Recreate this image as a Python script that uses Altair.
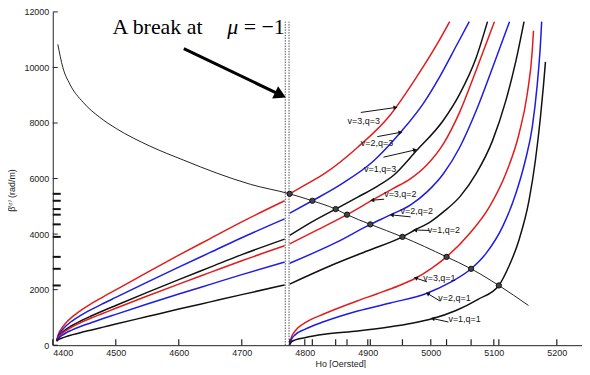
import math
import altair as alt
import pandas as pd

# ---------------- data ----------------
x_major = [4400, 4500, 4600, 4700, 4800, 4900, 5000, 5100, 5200]
y_major = [0, 2000, 4000, 6000, 8000, 10000, 12000]

# intersections of the dispersion curves with the descending line
cross_H = [4776, 4812, 4849, 4867, 4904, 4955, 5025, 5064, 5108]
cross_beta = [5450, 5200, 4900, 4700, 4350, 3900, 3180, 2750, 2150]

# left branch (below the break) for q=3 and q=2 families
left_H = [4406, 4409, 4414, 4420, 4430, 4445, 4460, 4480, 4500, 4550, 4600, 4650, 4700, 4768]
left_red_q3 = [150, 400, 600, 780, 1000, 1260, 1480, 1740, 1990, 2620, 3240, 3840, 4440, 5200]
left_blue_q3 = [150, 350, 520, 670, 860, 1080, 1270, 1500, 1720, 2270, 2810, 3340, 3870, 4550]
left_black_q3 = [150, 300, 430, 550, 700, 880, 1040, 1240, 1430, 1900, 2360, 2810, 3260, 3820]
left_red_q2 = [150, 290, 400, 510, 650, 820, 970, 1150, 1330, 1770, 2200, 2620, 3040, 3580]
left_blue_q2 = [150, 250, 340, 430, 540, 680, 800, 960, 1110, 1480, 1840, 2190, 2540, 2990]
left_black_q2 = [150, 200, 250, 300, 370, 460, 540, 650, 760, 1030, 1300, 1560, 1820, 2170]

# right branch (above the break)
r_red_q3_H = [4776, 4800, 4831, 4884, 4936, 4973, 5009, 5030]
r_red_q3 = [5450, 5760, 6174, 7128, 8300, 9500, 10800, 11650]
r_blue_q3_H = [4776, 4812, 4858, 4910, 4952, 4988, 5015, 5041, 5061]
r_blue_q3 = [4750, 5200, 5800, 6650, 7664, 8700, 9700, 10800, 11650]
r_black_q3_H = [4776, 4810, 4849, 4884, 4915, 4941, 4977, 5020, 5046, 5072, 5090]
r_black_q3 = [3950, 4420, 4900, 5330, 5720, 6120, 7000, 8100, 9050, 10350, 11650]
r_red_q2_H = [4776, 4820, 4867, 4907, 4940, 4968, 4994, 5020, 5046, 5072, 5101]
r_red_q2 = [3650, 4150, 4700, 5220, 5640, 6000, 6500, 7250, 8400, 9900, 11650]
r_blue_q2_H = [4776, 4850, 4904, 4936, 4968, 4994, 5020, 5046, 5072, 5098, 5125]
r_blue_q2 = [2950, 3700, 4350, 4690, 5050, 5520, 6174, 7128, 8439, 9988, 11650]
r_black_q2_H = [4776, 4850, 4900, 4955, 4975, 5000, 5020, 5046, 5072, 5098, 5119, 5135, 5148]
r_black_q2 = [2200, 2950, 3400, 3900, 4148, 4450, 4800, 5340, 6174, 7366, 8796, 10226, 11650]
r_red_q1_H = [4776, 4779, 4785, 4800, 4831, 4884, 4915, 4950, 4975, 5000, 5025, 5062, 5093, 5119, 5140, 5153, 5161, 5163]
r_red_q1 = [60, 300, 520, 800, 1130, 1600, 1850, 2150, 2400, 2750, 3180, 4028, 4982, 6174, 7604, 9035, 10584, 11320]
r_blue_q1_H = [4776, 4779, 4785, 4800, 4831, 4884, 4936, 4994, 5030, 5064, 5088, 5114, 5135, 5150, 5161, 5169, 5174, 5176]
r_blue_q1 = [40, 220, 380, 570, 850, 1230, 1520, 1870, 2250, 2750, 3313, 4267, 5459, 6650, 7843, 9392, 10822, 11650]
r_black_q1_H = [4776, 4779, 4785, 4800, 4831, 4884, 4936, 4970, 5002, 5040, 5075, 5108, 5124, 5140, 5156, 5166, 5174, 5179, 5182]
r_black_q1 = [20, 120, 190, 270, 390, 510, 660, 790, 954, 1250, 1650, 2150, 2840, 3790, 5220, 6650, 8200, 9392, 10200]

# thin descending line
line_H = [4408, 4416, 4427, 4448, 4474, 4501, 4554, 4608, 4661, 4714, 4776, 4812, 4849, 4867, 4904, 4955, 5025, 5064, 5108, 5155]
line_beta = [10833, 10000, 9405, 8750, 8214, 7798, 7170, 6660, 6190, 5790, 5450, 5200, 4900, 4700, 4350, 3900, 3180, 2750, 2150, 1430]

# break (two dotted lines)
break_H = [4769, 4775]
break_top = 11650

# curve labels
lab_text = ["v=3,q=3", "v=2,q=3", "v=1,q=3", "v=3,q=2", "v=2,q=2", "v=1,q=2", "v=3,q=1", "v=2,q=1", "v=1,q=1"]
lab_H = [4868, 4889, 4894, 4926, 4952, 4995, 4988, 5012, 5028]
lab_beta = [8057, 7270, 6353, 5459, 4827, 4148, 2420, 1704, 930]
arr_from_H = [4889, 4915, 4925, 4926, 4968, 4998, 4994, 5015, 5028]
arr_from_b = [8380, 7509, 6770, 5256, 4620, 4130, 2280, 1585, 834]
arr_to_H = [4944, 4952, 4975, 4907, 4938, 4975, 4976, 4995, 5003]
arr_to_b = [8558, 7664, 7030, 5220, 4690, 4148, 2420, 1860, 960]

RED, BLUE, BLACK = "#e41b1b", "#1c1ce6", "#111111"

# ---------------- geometry ----------------
W, Hh = 532, 335
X0, X1 = 4400, 5240
Y0, Y1 = 0, 12000
kx = W / (X1 - X0)
ky = Hh / (Y1 - Y0)
xs = alt.Scale(domain=[X0, X1], nice=False, zero=False)
ys = alt.Scale(domain=[Y0, Y1], nice=False, zero=False)
FONT = "Liberation Sans"

# ---------------- tables ----------------
rows = []
def add(seg, col, hs, bs):
    for i, (h, b) in enumerate(zip(hs, bs)):
        rows.append({"H": h, "beta": b, "seg": seg, "col": col, "i": i})

add("L_r3", RED, left_H, left_red_q3)
add("L_b3", BLUE, left_H, left_blue_q3)
add("L_k3", BLACK, left_H, left_black_q3)
add("L_r2", RED, left_H, left_red_q2)
add("L_b2", BLUE, left_H, left_blue_q2)
add("L_k2", BLACK, left_H, left_black_q2)
add("R_r3", RED, r_red_q3_H, r_red_q3)
add("R_b3", BLUE, r_blue_q3_H, r_blue_q3)
add("R_k3", BLACK, r_black_q3_H, r_black_q3)
add("R_r2", RED, r_red_q2_H, r_red_q2)
add("R_b2", BLUE, r_blue_q2_H, r_blue_q2)
add("R_k2", BLACK, r_black_q2_H, r_black_q2)
add("R_r1", RED, r_red_q1_H, r_red_q1)
add("R_b1", BLUE, r_blue_q1_H, r_blue_q1)
add("R_k1", BLACK, r_black_q1_H, r_black_q1)
curves = pd.DataFrame(rows)

thin = pd.DataFrame({"H": line_H, "beta": line_beta, "i": range(len(line_H))})
dots = pd.DataFrame({"H": cross_H, "beta": cross_beta})
brk = pd.DataFrame({"H": break_H, "beta": [0, 0], "y1": [break_top, break_top]})

xt = pd.DataFrame({"H": x_major + cross_H})
yt_major = pd.DataFrame({"beta": y_major})
yt_extra = pd.DataFrame({"beta": cross_beta})

labs = pd.DataFrame({"H": lab_H, "beta": lab_beta, "t": lab_text})
arr_rows = []
heads = []
for k in range(len(lab_text)):
    arr_rows.append({"H": arr_from_H[k], "beta": arr_from_b[k], "g": k, "i": 0})
    arr_rows.append({"H": arr_to_H[k], "beta": arr_to_b[k], "g": k, "i": 1})
    dxp = (arr_to_H[k] - arr_from_H[k]) * kx
    dyp = -(arr_to_b[k] - arr_from_b[k]) * ky
    ang = math.degrees(math.atan2(dyp, dxp)) % 360
    heads.append({"H": arr_to_H[k], "beta": arr_to_b[k], "ang": ang})
arr_df = pd.DataFrame(arr_rows)
head_df = pd.DataFrame(heads)

# big annotation arrow
big_from = (4608, 10675)
big_to = (4770, 8919)
bdx = (big_to[0] - big_from[0]) * kx
bdy = -(big_to[1] - big_from[1]) * ky
blen = math.hypot(bdx, bdy)
bang = math.degrees(math.atan2(bdy, bdx)) % 360
ux, uy = bdx / blen, bdy / blen
head_c = (big_to[0] - 6 * ux / kx, big_to[1] + 6 * uy / ky)
shaft_end = (big_to[0] - 9 * ux / kx, big_to[1] + 9 * uy / ky)
big_line = pd.DataFrame({"H": [big_from[0], shaft_end[0]], "beta": [big_from[1], shaft_end[1]], "i": [0, 1]})
big_head = pd.DataFrame({"H": [head_c[0]], "beta": [head_c[1]], "ang": [bang]})

ann_plain = pd.DataFrame({"H": [4495, 4703], "beta": [11212, 11212], "t": ["A break at", "= \u22121"]})
ann_mu = pd.DataFrame({"H": [4677], "beta": [11212], "t": ["\u03bc"]})

# ---------------- axes (shared by every layer) ----------------
XT = "Ho [Oersted]"
YT = "\u03b2\u207d\u02b3\u207e  (rad/m)"
xaxis = alt.Axis(values=x_major, format="d", ticks=False, tickSize=0, grid=False,
                 labelFont=FONT, labelFontSize=9, labelColor="#222", labelPadding=3,
                 domainColor="#222", title=XT, titleFont=FONT, titleX=289,
                 titleFontSize=9, titleFontWeight="normal", titleColor="#222", titlePadding=2)
yaxis = alt.Axis(values=y_major, format="d", ticks=False, tickSize=0, grid=False,
                 labelFont=FONT, labelFontSize=9, labelColor="#222", labelPadding=4,
                 domainColor="#222", title=YT, titleFont=FONT, titleY=179,
                 titleFontSize=9, titleFontWeight="normal", titleColor="#222", titlePadding=7)
XE = alt.X("H:Q", scale=xs, axis=xaxis, title=XT)
YE = alt.Y("beta:Q", scale=ys, axis=yaxis, title=YT)

base_lines = alt.Chart(curves).mark_line(strokeWidth=1.5, interpolate="monotone").encode(
    x=XE, y=YE,
    color=alt.Color("col:N", scale=None),
    detail="seg:N",
    order="i:Q",
)

thin_line = alt.Chart(thin).mark_line(strokeWidth=1, color="#222", interpolate="monotone").encode(
    x=XE, y=YE, order="i:Q",
)

dot_layer = alt.Chart(dots).mark_point(filled=True, fill="#444", stroke="#111", strokeWidth=1,
                                       size=28, opacity=1).encode(x=XE, y=YE)

break_layer = alt.Chart(brk).mark_rule(color="#555", strokeWidth=1, strokeDash=[1.5, 1.2]).encode(
    x=XE, y=YE, y2="y1:Q",
)

xtick_layer = alt.Chart(xt).mark_rule(color="#222", strokeWidth=1.2).encode(
    x=XE, y=alt.value(Hh), y2=alt.value(Hh - 6),
)
ytick_major = alt.Chart(yt_major).mark_rule(color="#222", strokeWidth=1).encode(
    y=YE, x=alt.value(0), x2=alt.value(5),
)
ytick_extra = alt.Chart(yt_extra).mark_rule(color="#111", strokeWidth=2).encode(
    y=YE, x=alt.value(0), x2=alt.value(8),
)

lab_layer = alt.Chart(labs).mark_text(font=FONT, fontSize=9, align="left", baseline="middle",
                                      color="#111").encode(x=XE, y=YE, text="t:N")
arr_layer = alt.Chart(arr_df).mark_line(color="#111", strokeWidth=1).encode(
    x=XE, y=YE, detail="g:N", order="i:Q",
)
head_layer = alt.Chart(head_df).mark_point(shape="triangle-right", filled=True, color="#111",
                                           size=22, opacity=1).encode(
    x=XE, y=YE, angle=alt.Angle("ang:Q", scale=None),
)

big_line_layer = alt.Chart(big_line).mark_line(color="black", strokeWidth=3).encode(
    x=XE, y=YE, order="i:Q",
)
big_head_layer = alt.Chart(big_head).mark_point(shape="triangle-right", filled=True, color="black",
                                                size=190, opacity=1).encode(
    x=XE, y=YE, angle=alt.Angle("ang:Q", scale=None),
)

ann_layer = alt.Chart(ann_plain).mark_text(font="Liberation Serif", fontSize=22, align="left",
                                           baseline="alphabetic", color="black").encode(
    x=XE, y=YE, text="t:N",
)
mu_layer = alt.Chart(ann_mu).mark_text(font="Liberation Serif", fontSize=22, fontStyle="italic",
                                       align="left", baseline="alphabetic", color="black").encode(
    x=XE, y=YE, text="t:N",
)

chart = alt.layer(
    base_lines, break_layer, thin_line, dot_layer, xtick_layer, ytick_major, ytick_extra,
    arr_layer, head_layer, lab_layer, big_line_layer, big_head_layer, ann_layer, mu_layer,
).properties(
    width=W, height=Hh,
    background="white",
    autosize=alt.AutoSizeParams(type="none"),
    padding={"left": 45, "top": 3, "right": 0, "bottom": 22},
).configure_view(stroke=None)

chart.save("out.html", embed_options={"renderer": "svg", "actions": False})
